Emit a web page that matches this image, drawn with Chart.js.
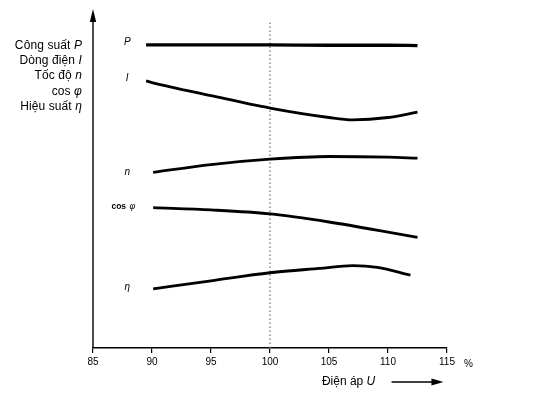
<!DOCTYPE html>
<html><head><meta charset="utf-8">
<script src="https://cdn.jsdelivr.net/npm/chart.js@4"></script>
<style>html,body{margin:0;padding:0;background:#fff}#wrap{width:553px;height:396px;position:relative}</style>
</head><body><div id="wrap"><canvas id="c"></canvas></div>
<script>
const xTicks=[85,90,95,100,105,110,115];
const powerX=[89.5,95,100,105,110,112.5];
const powerY=[90.2,90.2,90.2,90.1,90.1,90.0];
const currentX=[89.5,90,95,100,105,107,110,112.5];
const currentY=[79.5,79.0,75.1,71.4,68.6,67.9,68.6,70.2];
const speedX=[90.1,95,100,105,110,112.5];
const speedY=[52.3,54.6,56.2,57.0,56.8,56.5];
const cosX=[90.1,95,100,105,110,112.5];
const cosY=[41.8,41.1,39.9,37.5,34.5,32.9];
const effX=[90.1,95,100,104.2,107,109.1,111.9];
const effY=[17.6,20.0,22.4,23.7,24.5,24.0,21.7];
const refX=[100,100];
const refY=[0,97];
const curveNames=['P','I','n','cos φ','η'];
const axisNames=[['Công suất ','P'],['Dòng điện ','I'],['Tốc độ ','n'],['cos ','φ'],['Hiệu suất ','η']];
const xTitle=['Điện áp ','U'];
const xUnit='%';

const pts=(xs,ys)=>xs.map((x,i)=>({x:x,y:ys[i]}));
const FONT='"Liberation Sans", Arial, sans-serif';

const series=[
  {data:pts(powerX,powerY),w:3.3},
  {data:pts(currentX,currentY),w:2.8},
  {data:pts(speedX,speedY),w:2.8},
  {data:pts(cosX,cosY),w:2.8},
  {data:pts(effX,effY),w:2.8}
];

const decor={
  id:'decor',
  beforeDatasetsDraw(chart){
    const {ctx,chartArea:a}=chart;
    ctx.save();
    ctx.strokeStyle='#000';ctx.lineWidth=1.4;
    ctx.beginPath();ctx.moveTo(a.left,a.bottom);ctx.lineTo(a.left,a.top+8);ctx.stroke();
    ctx.fillStyle='#000';
    ctx.beginPath();ctx.moveTo(a.left,a.top-3);ctx.lineTo(a.left-3.2,a.top+10);ctx.lineTo(a.left+3.2,a.top+10);ctx.closePath();ctx.fill();
    ctx.restore();
  },
  afterDraw(chart){
    const {ctx,chartArea:a,scales:{x,y}}=chart;
    ctx.save();
    ctx.fillStyle='#000';
    ctx.textBaseline='alphabetic';
    ctx.letterSpacing='0.1px';
    const right=a.left-11;
    axisNames.forEach((p,i)=>{
      const base=49+i*15.2;
      ctx.font='italic 12px '+FONT;
      const wi=ctx.measureText(p[1]).width;
      ctx.textAlign='right';
      ctx.fillText(p[1],right,base);
      ctx.font='12px '+FONT;
      ctx.fillText(p[0],right-wi,base);
    });
    ctx.letterSpacing='0px';
    const firsts=[powerY[0],currentY[0],speedY[0],cosY[0],effY[0]];
    const offs=[-3,-3,0,-1,-2];
    ctx.textBaseline='middle';ctx.textAlign='center';
    curveNames.forEach((n,i)=>{
      const py=y.getPixelForValue(firsts[i])+offs[i];
      if(n==='cos φ'){
        ctx.textAlign='right';
        ctx.font='italic 9px '+FONT;
        const w2=ctx.measureText('φ').width;
        ctx.fillText('φ',x.getPixelForValue(88.5)+1,py);
        ctx.font='bold 8.5px '+FONT;
        ctx.fillText('cos ',x.getPixelForValue(88.5)-w2,py);
        ctx.textAlign='center';
      } else {
        ctx.font='italic 10px '+FONT;
        ctx.fillText(n,x.getPixelForValue(87.9),py);
      }
    });
    ctx.font='10px '+FONT;ctx.textAlign='left';ctx.textBaseline='middle';
    ctx.fillText(xUnit,x.getPixelForValue(115)+17,364);
    ctx.textBaseline='alphabetic';
    ctx.font='12px '+FONT;
    const t0=ctx.measureText(xTitle[0]).width;
    const tx=x.getPixelForValue(104.4);
    ctx.textAlign='left';
    ctx.fillText(xTitle[0],tx,385);
    ctx.font='italic 12px '+FONT;
    ctx.fillText(xTitle[1],tx+t0,385);
    const ax0=x.getPixelForValue(110.3), ax1=x.getPixelForValue(114.7);
    ctx.strokeStyle='#000';ctx.lineWidth=1.3;
    ctx.beginPath();ctx.moveTo(ax0,382);ctx.lineTo(ax1-10,382);ctx.stroke();
    ctx.beginPath();ctx.moveTo(ax1,382);ctx.lineTo(ax1-12,378.6);ctx.lineTo(ax1-12,385.4);ctx.closePath();ctx.fill();
    ctx.restore();
  }
};

new Chart(document.getElementById('c'),{
  type:'scatter',
  data:{datasets:[
    {data:pts(refX,refY),showLine:true,borderColor:'#8a8a8a',borderWidth:1.5,borderDash:[1.6,2.4],pointRadius:0,order:5},
    ...series.map(s=>({data:s.data,showLine:true,borderColor:'#000',borderWidth:s.w,pointRadius:0,cubicInterpolationMode:'monotone',borderCapStyle:'butt',order:1}))
  ]},
  options:{
    responsive:true,maintainAspectRatio:false,animation:false,
    layout:{padding:{left:93,right:106,top:12,bottom:0}},
    plugins:{legend:{display:false},tooltip:{enabled:false}},
    scales:{
      x:{type:'linear',min:85,max:115,
        afterBuildTicks(s){s.ticks=xTicks.map(v=>({value:v}));},
        afterFit(s){s.height=48;},
        grid:{display:true,drawOnChartArea:false,drawTicks:true,tickLength:5,color:'#000',lineWidth:1.2},
        border:{display:true,color:'#000',width:1.4},
        ticks:{color:'#000',font:{family:'"Liberation Sans", Arial, sans-serif',size:10},padding:3,maxRotation:0}
      },
      y:{type:'linear',min:0,max:100,display:false}
    }
  },
  plugins:[decor]
});
</script></body></html>
